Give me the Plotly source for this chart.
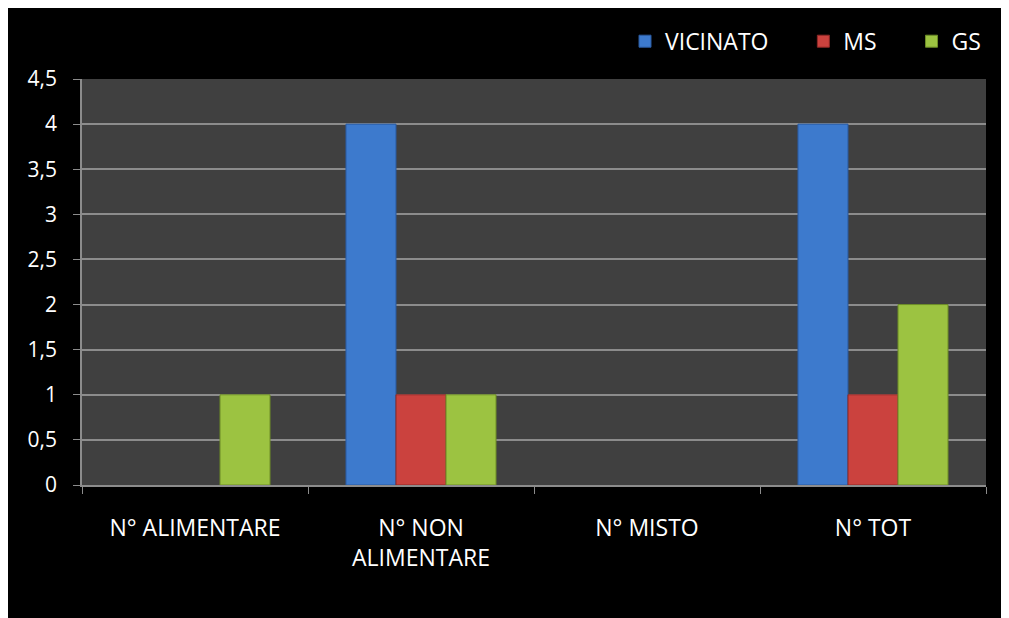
import plotly.graph_objects as go

categories = ["N° ALIMENTARE", "N° NON<br>ALIMENTARE", "N° MISTO", "N° TOT"]
vicinato = [0, 4, 0, 4]
ms = [0, 1, 0, 1]
gs = [1, 1, 0, 2]
y_ticks = [0, 0.5, 1, 1.5, 2, 2.5, 3, 3.5, 4, 4.5]

FONT = "Open Sans"
GRID = "#8c8c8c"
NB = "\u00a0"

fig = go.Figure()
series = [
    ("VICINATO" + NB * 5, vicinato, "#3d7acd", "#2a5aa0"),
    ("MS" + NB * 5, ms, "#cb423e", "#8e2826"),
    ("GS", gs, "#9cc341", "#6c8c26"),
]
for name, vals, col, edge in series:
    fig.add_trace(go.Bar(
        x=categories, y=[v if v else None for v in vals], name=name,
        marker=dict(color=col, line=dict(color=edge, width=1)),
    ))

fig.update_layout(
    width=1030, height=640,
    margin=dict(l=74, r=52, t=67, b=163),
    paper_bgcolor="black",
    plot_bgcolor="#404040",
    barmode="group",
    bargap=0.336,
    bargroupgap=0,
    separators=", ",
    font=dict(family=FONT, color="white", size=20),
    legend=dict(
        orientation="h", x=1.0, xanchor="right", y=1.093, yanchor="middle",
        font=dict(family=FONT, size=23, color="white"),
        bgcolor="rgba(0,0,0,0)", itemwidth=30, traceorder="normal",
    ),
)
fig.update_yaxes(
    range=[0, 4.5], tickvals=y_ticks, showgrid=True, gridcolor=GRID, gridwidth=1.5,
    showline=True, linecolor=GRID, linewidth=1.5, ticks="outside", ticklen=7,
    tickcolor=GRID, tickfont=dict(family=FONT, size=21, color="white"),
    zeroline=False, ticklabelstandoff=12,
)
fig.update_xaxes(
    showline=True, linecolor=GRID, linewidth=1.5, ticks="outside", ticklen=7,
    tickcolor=GRID, tickson="boundaries", showgrid=False,
    tickfont=dict(family=FONT, size=23, color="white"), ticklabelstandoff=22,
)

fig.write_html("out.html")
